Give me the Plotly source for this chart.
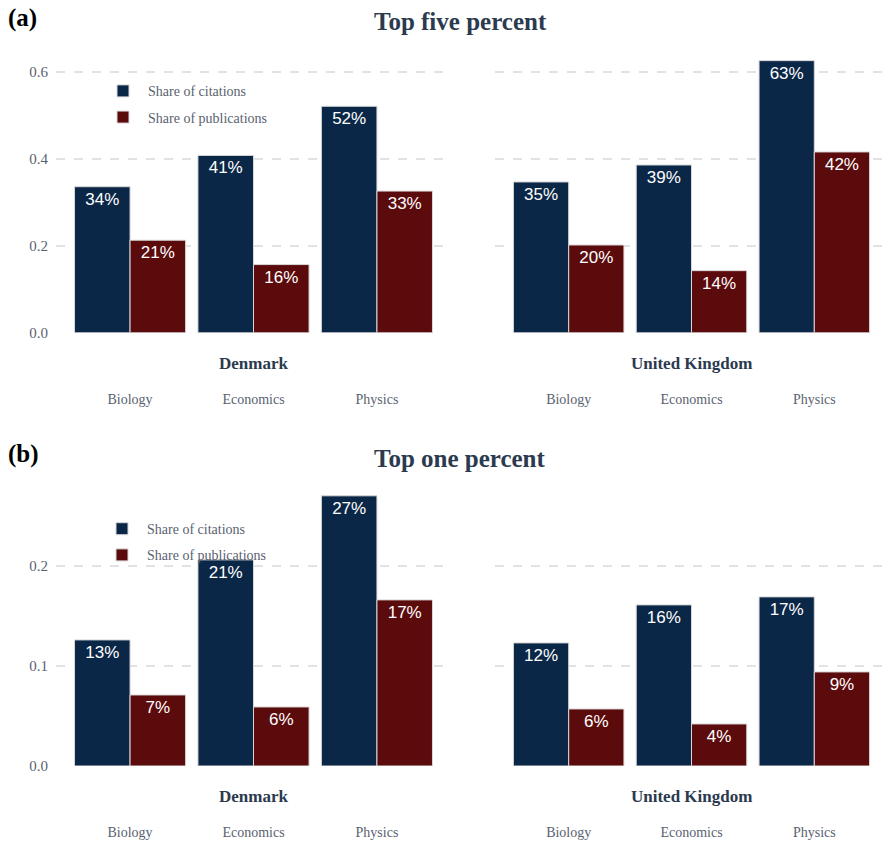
import plotly.graph_objects as go

# ---- data ----
fields = ["Biology", "Economics", "Physics"]
countries = ["Denmark", "United Kingdom"]
series_names = ["Share of citations", "Share of publications"]
panel_titles = ["Top five percent", "Top one percent"]
panel_letters = ["(a)", "(b)"]

top5_cit_dk = [0.336, 0.408, 0.521]
top5_pub_dk = [0.213, 0.157, 0.326]
top5_cit_uk = [0.347, 0.386, 0.626]
top5_pub_uk = [0.202, 0.143, 0.416]

top1_cit_dk = [0.126, 0.206, 0.270]
top1_pub_dk = [0.071, 0.059, 0.166]
top1_cit_uk = [0.123, 0.161, 0.169]
top1_pub_uk = [0.057, 0.042, 0.094]

top5_ticks = [0.0, 0.2, 0.4, 0.6]
top1_ticks = [0.0, 0.1, 0.2]

# ---- style ----
W, H = 889, 847
NAVY = "#0b2747"
MAROON = "#5c0b0d"
TITLE_C = "#2b3a4e"
TICK_C = "#5a6270"
GRID_C = "#e2e2e2"
SERIF = "Liberation Serif"
SANS = "Liberation Sans"

def px_x(p):
    return p / W

def px_y(p):
    return 1 - p / H

x_domains = [[px_x(56), px_x(451)], [px_x(495), px_x(888)]]
row_y_domains = [[px_y(336), px_y(46.3)], [px_y(773.3), px_y(485.4)]]
row_ranges = [[0, 0.66], [0, 0.285]]
row_ticks = [top5_ticks, top1_ticks]

data_rows = [
    [(top5_cit_dk, top5_pub_dk), (top5_cit_uk, top5_pub_uk)],
    [(top1_cit_dk, top1_pub_dk), (top1_cit_uk, top1_pub_uk)],
]

fig = go.Figure()
layout = dict(
    width=W, height=H,
    margin=dict(l=0, r=0, t=0, b=0),
    paper_bgcolor="white", plot_bgcolor="white",
    barmode="group", bargap=0.1, bargroupgap=0.0,
    font=dict(family=SERIF, color=TICK_C, size=13),
)
annotations = []

ax = 0
for r in range(2):
    for c in range(2):
        ax += 1
        xa = "x" if ax == 1 else f"x{ax}"
        ya = "y" if ax == 1 else f"y{ax}"
        cit, pub = data_rows[r][c]
        leg = "legend" if r == 0 else "legend2"
        for vals, name, col in [(cit, series_names[0], NAVY), (pub, series_names[1], MAROON)]:
            fig.add_trace(go.Bar(
                x=fields, y=vals, name=name,
                xaxis=xa, yaxis=ya,
                marker=dict(color=col, line=dict(color="#d8d8d8", width=1)),
                text=[f"{v*100:.0f}%" for v in vals],
                textposition="inside", insidetextanchor="end",
                textangle=0,
                textfont=dict(family=SANS, size=17, color="white"),
                showlegend=(c == 0), legend=leg, legendgroup=name,
                hovertemplate="%{x}: %{y:.1%}<extra>" + name + "</extra>",
            ))
        xkey = "xaxis" if ax == 1 else f"xaxis{ax}"
        ykey = "yaxis" if ax == 1 else f"yaxis{ax}"
        layout[xkey] = dict(
            domain=x_domains[c], anchor=ya, type="category",
            categoryorder="array", categoryarray=fields,
            range=[-0.6, 2.6], showgrid=False, zeroline=False, showline=False,
            ticks="", ticklabelstandoff=56,
            tickfont=dict(family=SERIF, size=14, color=TICK_C),
        )
        yd = dict(
            domain=row_y_domains[r], anchor=xa, range=row_ranges[r],
            tickvals=row_ticks[r], tickformat=".1f",
            showgrid=True, gridcolor=GRID_C, gridwidth=1.5, griddash="dash",
            zeroline=False, showline=False, ticks="",
            tickfont=dict(family=SERIF, size=15, color=TICK_C),
            showticklabels=(c == 0), ticklabelstandoff=7,
        )
        if c == 1:
            yd["matches"] = "y" if r == 0 else "y3"
        layout[ykey] = yd
        annotations.append(dict(
            text=f"<b>{countries[c]}</b>", xref=f"{xa} domain", yref=f"{ya} domain",
            x=0.5, y=0, yshift=-31, yanchor="middle", showarrow=False,
            font=dict(family=SERIF, size=17, color=TITLE_C),
        ))

# panel titles and letters
for title, ytop in zip(panel_titles, [22, 463]):
    annotations.append(dict(
        text=f"<b>{title}</b>", xref="paper", yref="paper",
        x=px_x(460), y=px_y(ytop), xanchor="center", yanchor="middle",
        showarrow=False, font=dict(family=SERIF, size=25, color=TITLE_C),
    ))
for letter, ytop in zip(panel_letters, [18, 458]):
    annotations.append(dict(
        text=f"<b>{letter}</b>", xref="paper", yref="paper",
        x=px_x(6), y=px_y(ytop), xanchor="left", yanchor="middle",
        showarrow=False, font=dict(family=SERIF, size=25, color="black"),
    ))

layout["annotations"] = annotations
legend_common = dict(
    xanchor="left", yanchor="top", bgcolor="rgba(0,0,0,0)",
    font=dict(family=SERIF, size=14, color=TICK_C),
    tracegroupgap=5, itemwidth=40,
)
layout["legend"] = dict(x=px_x(98), y=px_y(76), **legend_common)
layout["legend2"] = dict(x=px_x(97), y=px_y(518), **legend_common)

fig.update_layout(**layout)
fig.write_html("out.html")
